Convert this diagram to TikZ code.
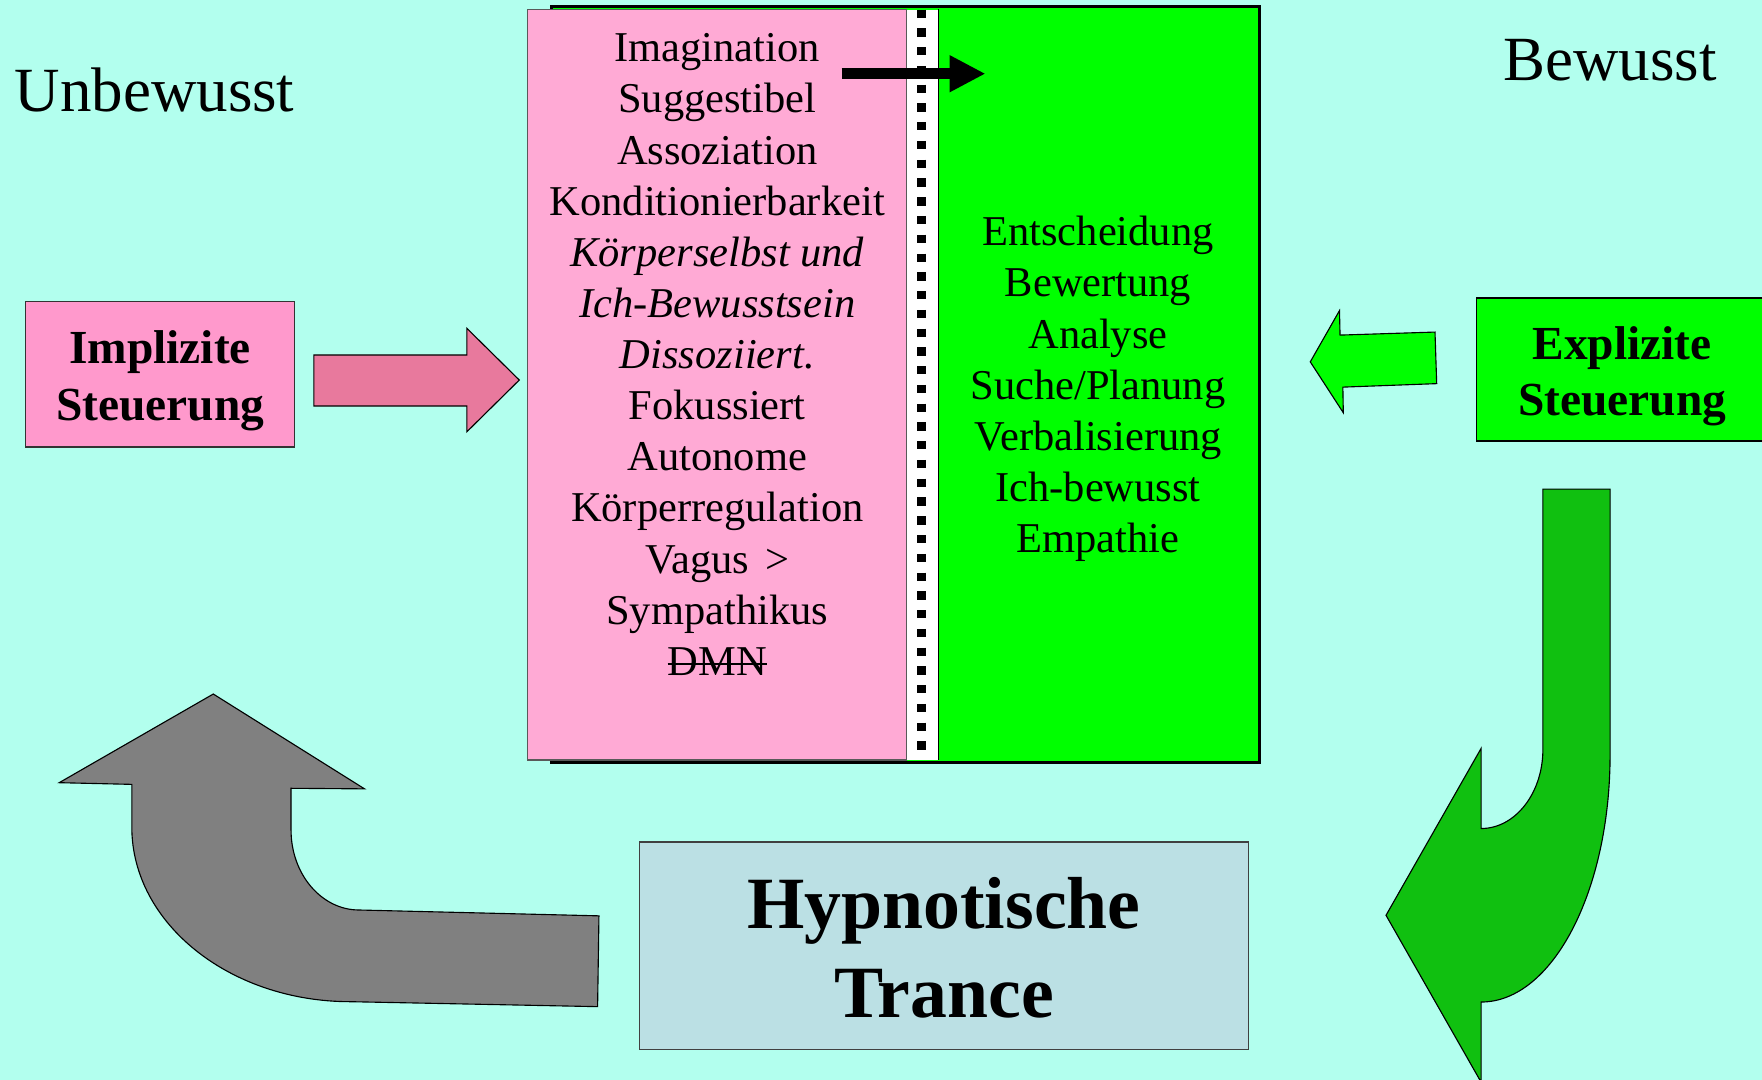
\documentclass[tikz,border=0pt]{standalone}
\usepackage{fontspec}
\setmainfont{Liberation Serif}
\usetikzlibrary{arrows.meta, positioning}

\definecolor{bgcyan}{RGB}{178,255,238}
\definecolor{innenpink}{RGB}{255,170,213}
\definecolor{implpink}{RGB}{255,153,204}
\definecolor{pfeilpink}{RGB}{232,121,157}
\definecolor{hellgruen}{RGB}{0,255,0}
\definecolor{dunkelgruen}{RGB}{16,192,16}
\definecolor{trancebox}{RGB}{187,224,228}

% durchgestrichener Text
\newcommand{\durchstreichen}[1]{\setbox0\hbox{#1}\rlap{\rule[0.25em]{\wd0}{1.8pt}}\box0}

\begin{document}
\begin{tikzpicture}[x=1pt, y=-1pt,
                kasten/.style={draw, inner sep=0pt},
                zeile/.style={anchor=base, inner sep=0pt, font=\fontsize{37.8}{45}\selectfont},
                fettzeile/.style={anchor=base, inner sep=0pt, font=\fontsize{42.2}{50}\selectfont\bfseries},
                grosszeile/.style={anchor=base, inner sep=0pt, font=\fontsize{65.6}{79}\selectfont\bfseries},
                titel/.style={inner sep=0pt, font=\fontsize{56}{66}\selectfont},
                blockpfeil/.style={draw=black, line width=1pt, line join=miter}]
                % Hintergrund
                \useasboundingbox (0,0) rectangle (1568,961);
                \fill[bgcyan] (0,0) rectangle (1568,961);

                % Ueberschriften
                \node[titel, anchor=base west] (unbewusst) at (13,99.4) {Unbewusst};
                \node[titel, anchor=base east] (bewusst) at (1528,71.2) {Bewusst};

                % Grosser Kasten: gruen, weisser Streifen, pink
                \node[kasten, fill=hellgruen, line width=2.5pt,
                      minimum width=629.6pt, minimum height=672.9pt] (aussen) at (805.8,342.25) {};
                \fill[white] (806.3,8.5) rectangle (834.8,676.3);
                \draw[line width=1pt] (834.8,8) -- (834.8,676.3);
                \node[kasten, fill=innenpink, draw=black!65, line width=1pt,
                      minimum width=337.1pt, minimum height=668pt] (innen) at (637.75,342.3) {};
                \draw[line width=8.3pt, dash pattern=on 7.4pt off 9.3pt] (820.3,8.5) -- (820.3,676);

                % Pfeil ueber die Grenze
                \coordinate (grenzeA) at (749,65.6);
                \coordinate (grenzeB) at (877,65.6);
                \draw[line width=9.8pt, -{Triangle[length=32pt, width=30.7pt]}] (grenzeA) -- (grenzeB);

                % Listen
                \foreach \txt [count=\i from 0] in {Imagination, Suggestibel, Assoziation, Konditionierbarkeit,
                      {\itshape Körperselbst und}, {\itshape Ich-Bewusstsein}, {\itshape Dissoziiert.},
                      Fokussiert, Autonome, Körperregulation, {Vagus\hspace{14pt}>}, Sympathikus, {\durchstreichen{DMN}}}
                    \node[zeile] (innen\i) at (638.3, {55+45.5*\i}) {\txt};
                \foreach \txt [count=\i from 0] in {Entscheidung, Bewertung, Analyse, {Suche/Planung},
                      Verbalisierung, Ich-bewusst, Empathie}
                    \node[zeile] (aussen\i) at (977.1, {218.5+45.6*\i}) {\txt};

                % Steuerung links und rechts
                \node[kasten, fill=implpink, draw=black!80, line width=1.3pt,
                      minimum width=239.5pt, minimum height=129.1pt] (implizit) at (142.25,333.05) {};
                \node[fettzeile] (implizit1) at (142.5,323.3) {Implizite};
                \node[fettzeile] (implizit2) at (142.5,374.4) {Steuerung};
                \node[kasten, fill=hellgruen, draw=black, line width=1.3pt,
                      minimum width=285.9pt, minimum height=127.5pt] (explizit) at (1457.05,328.85) {};
                \node[fettzeile] (explizit1) at (1443.5,319.6) {Explizite};
                \node[fettzeile] (explizit2) at (1443.5,369.5) {Steuerung};

                % Trance
                \node[kasten, fill=trancebox, draw=black!75, line width=1.5pt,
                      minimum width=541.8pt, minimum height=184.8pt] (trance) at (840.1,841.4) {};
                \node[grosszeile] (trance1) at (840,826.1) {Hypnotische};
                \node[grosszeile] (trance2) at (840,905.3) {Trance};

                % Blockpfeile
                \draw[blockpfeil, fill=pfeilpink] (279.3,315.9) -- (415.5,315.9) -- (415.5,292.2)
                    -- (462.1,338.2) -- (415.5,384.2) -- (415.5,361.3) -- (279.3,361.3) -- cycle;
                \draw[blockpfeil, fill=hellgruen] (1166,322) -- (1192,276.4) -- (1192.5,298.2)
                    -- (1277,295.5) -- (1278.5,341.4) -- (1195,344.5) -- (1195.4,367.3) -- cycle;
                \draw[blockpfeil, fill=dunkelgruen] (1373,435.3) -- (1432.8,435.3) -- (1432.8,671.4)
                    .. controls (1432.8,793) and (1381.4,891.7) .. (1318,891.7)
                    -- (1318,963) -- (1233.4,814.5) -- (1318,666) -- (1318,737.3)
                    .. controls (1348.4,737.3) and (1373,705.8) .. (1373,667) -- cycle;
                \draw[blockpfeil, fill=gray] (531.8,895.8) -- (312,891.4)
                    .. controls (204.4,891.4) and (117.3,821.6) .. (117.3,736)
                    -- (117.3,698) -- (52.7,696.5) -- (189.8,617.6) -- (324.4,702) -- (259,701.5)
                    -- (259,738.7) .. controls (259,777.9) and (286.1,809.8) .. (319.5,809.8)
                    -- (533,815) -- cycle;
            \end{tikzpicture}
\end{document}
